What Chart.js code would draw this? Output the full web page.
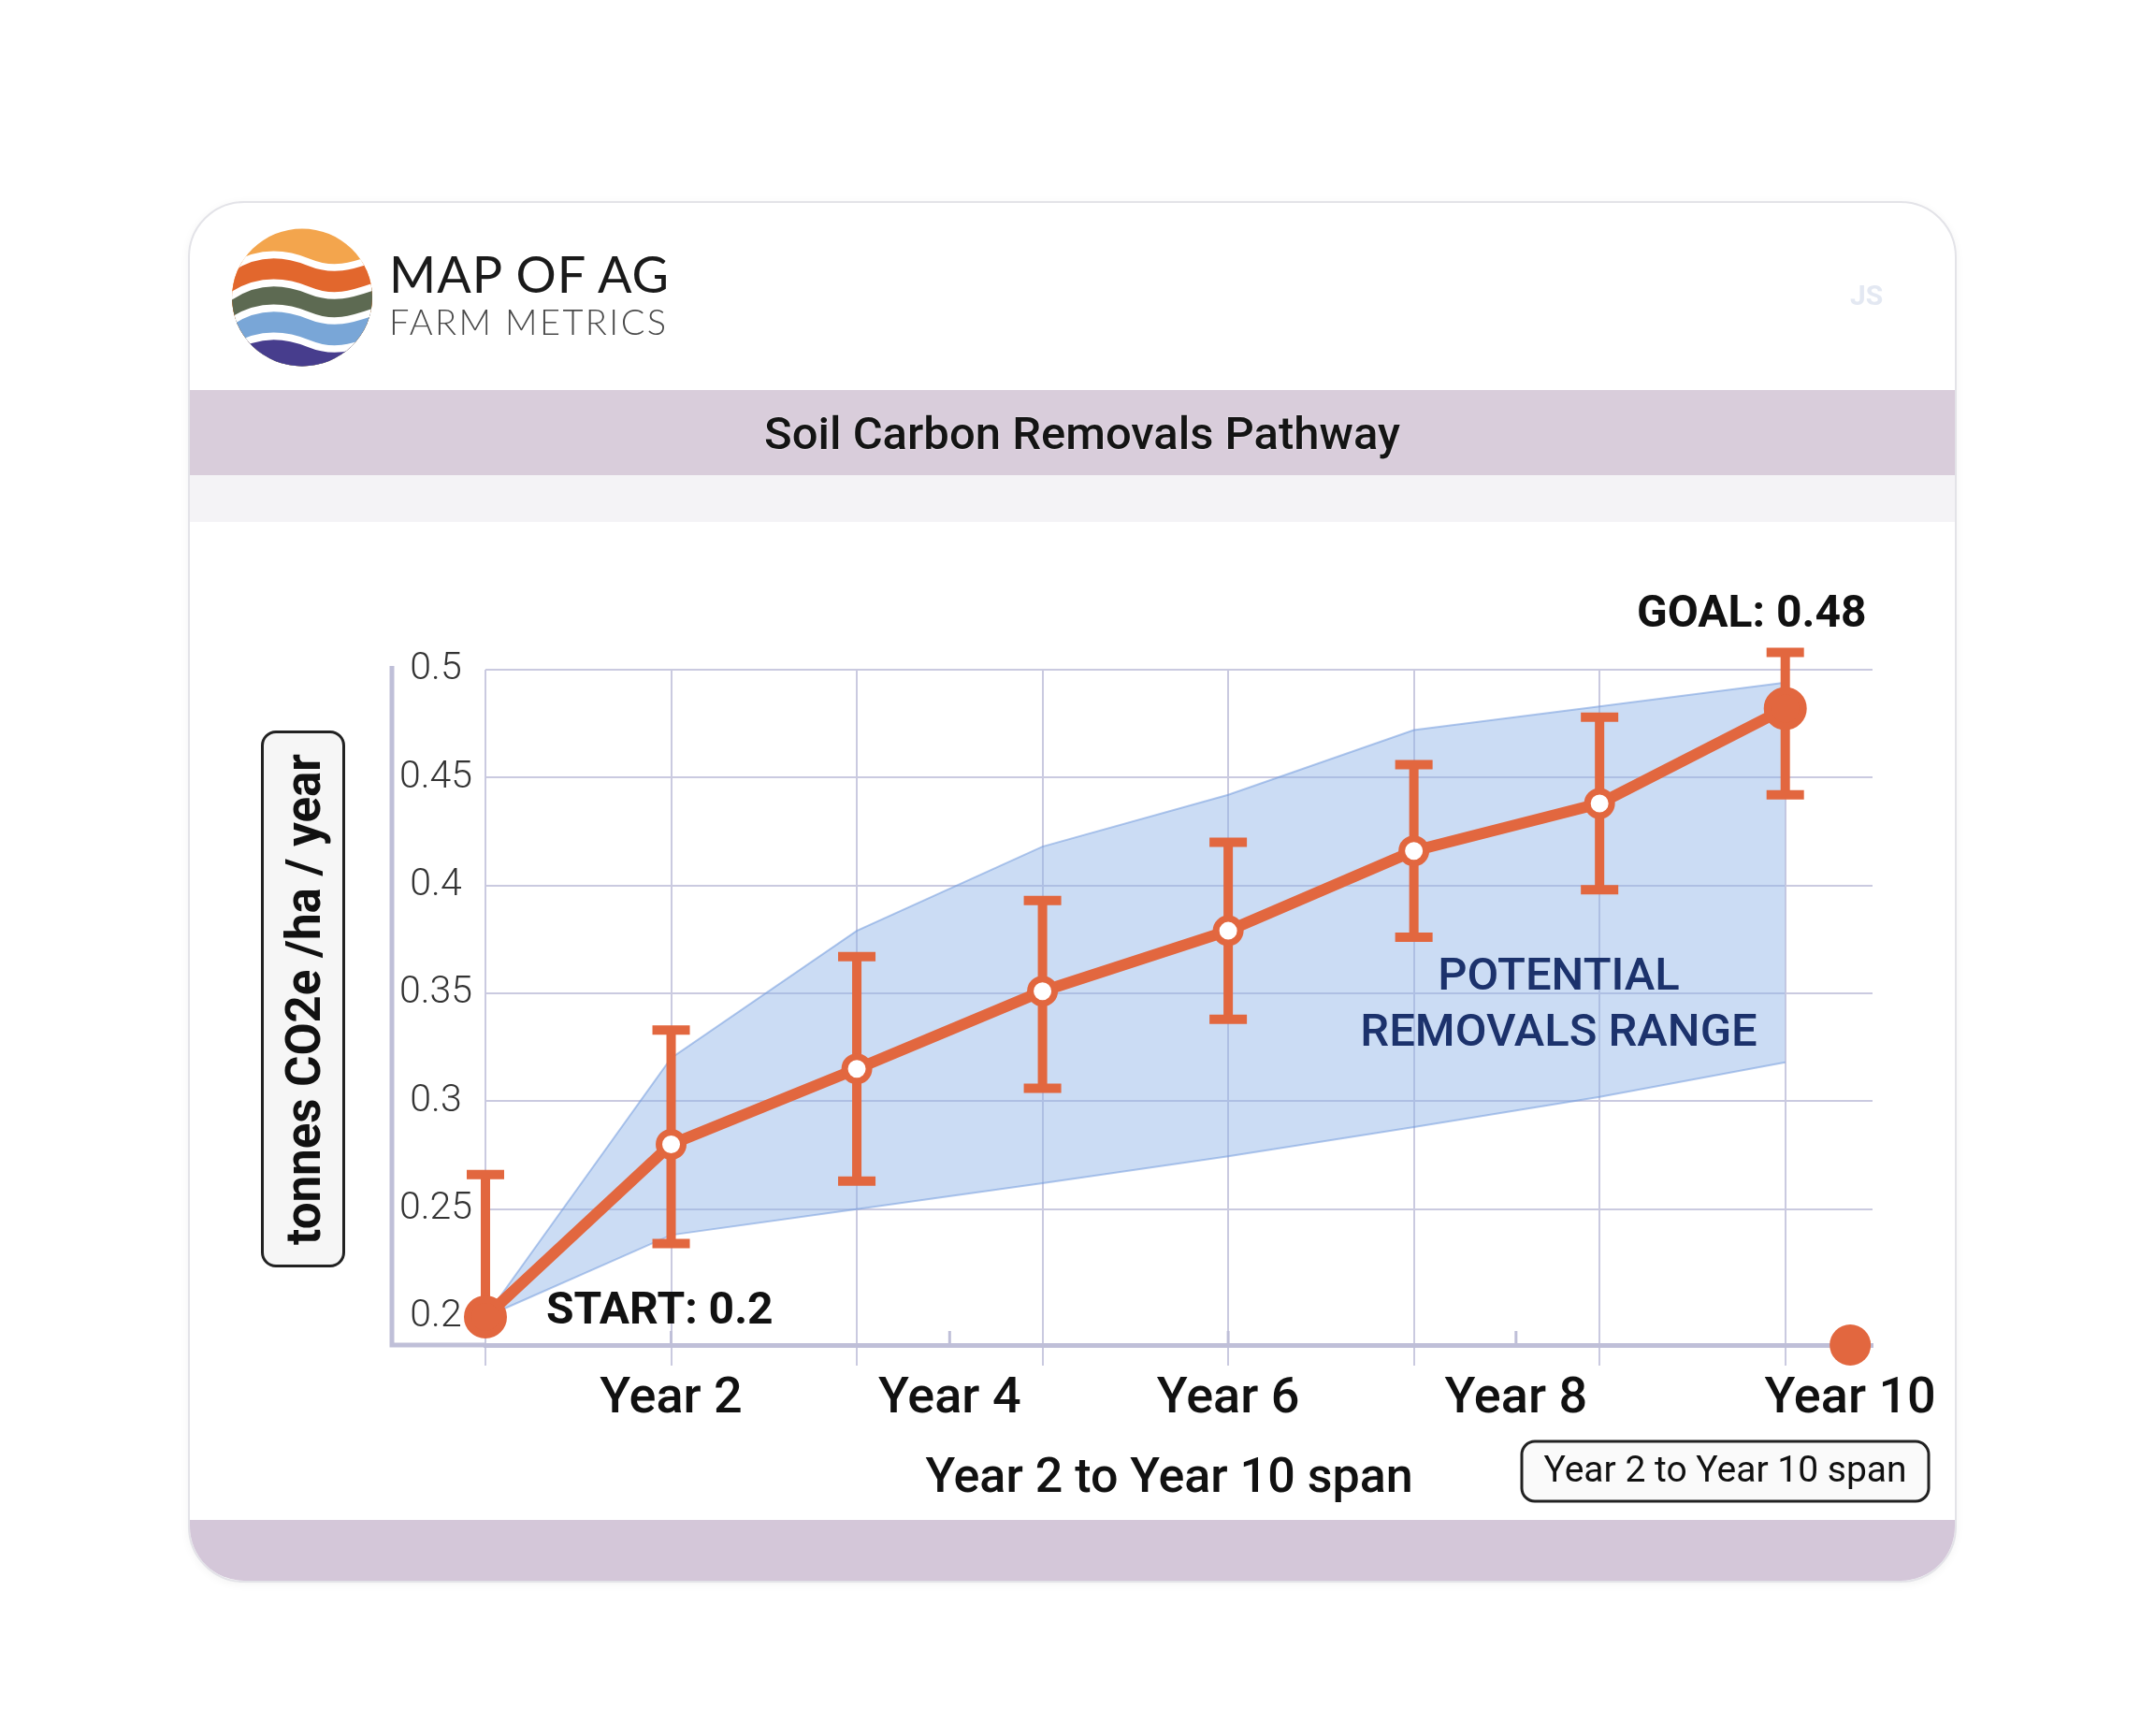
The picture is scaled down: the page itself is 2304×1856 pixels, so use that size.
<!DOCTYPE html>
<html>
<head>
<meta charset="utf-8">
<title>Soil Carbon Removals Pathway</title>
<script src="https://cdn.jsdelivr.net/npm/chart.js@4.4.0/dist/chart.umd.min.js"></script>
<style>
  html, body { margin: 0; padding: 0; background: #fff; }
  body { width: 2304px; height: 1856px; position: relative; overflow: hidden; font-family: Roboto, sans-serif; }
  .card { position: absolute; left: 201px; top: 215px; width: 1887px; height: 1473px; border: 2px solid #e3e3e8;
          border-radius: 60px; overflow: hidden; background: #fff; box-shadow: 0 2px 10px rgba(0,0,0,0.05); z-index: 1; }
  .band { position: absolute; left: 0; width: 100%; background: #d9cddb; }
  .strip { position: absolute; left: 0; width: 100%; top: 291px; height: 50px; background: #f4f3f6; }
  .title { position: absolute; left: 0; width: 1908px; top: 218px; height: 91px; line-height: 91px; text-align: center;
           font: 500 49px Roboto, sans-serif; color: #141414; text-shadow: 0 0 2px rgba(255,255,255,0.8); }
  .brand1 { position: absolute; left: 416px; top: 266px; font: 400 54px Lato, sans-serif; line-height: 54px; color: #1a1a1a; letter-spacing: 1px; z-index: 3; }
  .brand2 { position: absolute; left: 416px; top: 324px; font: 300 38px Lato, sans-serif; line-height: 38px; color: #4a4a4a; letter-spacing: 2.4px; z-index: 3; }
  .faint { position: absolute; left: 1978px; top: 298px; font: 700 30px Roboto, sans-serif; color: #e3e8f2; z-index: 3; }
  .ytitle { position: absolute; left: 279px; top: 781px; width: 84px; height: 568px; border: 3px solid #222; border-radius: 16px;
            background: #f6f6f6; display: flex; align-items: center; justify-content: center; z-index: 3; }
  .ytitle span { writing-mode: vertical-rl; transform: rotate(180deg); font: 700 51px Roboto, sans-serif; color: #111; white-space: nowrap; }
  canvas { position: absolute; left: 0; top: 0; z-index: 2; }
</style>
</head>
<body>
<div class="card">
  <div class="band" style="top:200px;height:91px"></div>
  <div class="strip"></div>
  <div class="title">Soil Carbon Removals Pathway</div>
  <div class="band" style="top:1408px;height:67px;background:#d4c7d9"></div>
</div>

<svg width="150" height="150" viewBox="0 0 100 100" style="position:absolute;left:248px;top:243px;z-index:3">
  <defs>
    <clipPath id="lc"><ellipse cx="50" cy="50" rx="50" ry="49"/></clipPath>
  </defs>
  <g clip-path="url(#lc)">
    <rect x="0" y="0" width="100" height="100" fill="#f3a54d"/>
    <path d="M-2,30 C18,16 38,18 55,25 S85,28 102,22 L102,102 L-2,102 Z" fill="#e2672d"/>
    <path d="M-2,50 C18,36 38,38 55,45 S85,48 102,42 L102,102 L-2,102 Z" fill="#5d6a52"/>
    <path d="M-2,68 C18,54 38,56 55,63 S85,66 102,60 L102,102 L-2,102 Z" fill="#79a6d7"/>
    <path d="M-2,88 C18,74 38,76 55,83 S85,86 102,80 L102,102 L-2,102 Z" fill="#473d8d"/>
    <g fill="none" stroke="#fff" stroke-width="5">
      <path d="M-2,30 C18,16 38,18 55,25 S85,28 102,22"/>
      <path d="M-2,50 C18,36 38,38 55,45 S85,48 102,42"/>
      <path d="M-2,68 C18,54 38,56 55,63 S85,66 102,60"/>
      <path d="M-2,88 C18,74 38,76 55,83 S85,86 102,80"/>
    </g>
  </g>
</svg>
<div class="brand1">MAP OF AG</div>
<div class="brand2">FARM METRICS</div>
<div class="faint">JS</div>
<div class="ytitle"><span>tonnes CO2e /ha / year</span></div>

<canvas id="chart" width="2304" height="1856" style="width:2304px;height:1856px"></canvas>

<script>
// measurement positions along the x axis (one per plotted year step)
const points = [0, 1, 2, 3, 4, 5, 6, 7];
const removals = [0.2, 0.28, 0.315, 0.351, 0.379, 0.416, 0.438, 0.482];
const errHigh = [0.266, 0.333, 0.367, 0.393, 0.42, 0.456, 0.478, 0.508];
const errLow = [null, 0.234, 0.263, 0.306, 0.338, 0.376, 0.398, 0.442];
const rangeHigh = [0.2, 0.32, 0.379, 0.418, 0.442, 0.472, 0.483, 0.494];
const rangeLow = [0.2, 0.238, 0.25, 0.262, 0.2745, 0.288, 0.302, 0.318];

const yTicks = [0.2, 0.25, 0.3, 0.35, 0.4, 0.45, 0.5];
const xTickLabels = ['Year 2', 'Year 4', 'Year 6', 'Year 8', 'Year 10'];
const xTickPositions = [1, 2.5, 4, 5.55, 7.35];

const Y_MIN = 0.187, Y_MAX = 0.5, X_MAX = 7.47;
const ORANGE = '#e2673f';
const GRID = '#cacae0';
const AXIS = '#bfbfd8';

const xy = (arr) => arr.map((v, i) => ({ x: points[i], y: v }));
const isEnd = (c) => c.dataIndex === 0 || c.dataIndex === removals.length - 1;

const decor = {
  id: 'decor',
  beforeDatasetsDraw(chart) {
    const { ctx, chartArea, scales } = chart;
    const left = scales.y.left;
    ctx.save();
    ctx.strokeStyle = AXIS;
    ctx.lineWidth = 5;
    ctx.beginPath();
    ctx.moveTo(left, chartArea.top - 4);
    ctx.lineTo(left, chartArea.bottom);
    ctx.lineTo(chartArea.left, chartArea.bottom);
    ctx.stroke();
    // little upward ticks at the label positions
    ctx.lineWidth = 3;
    xTickPositions.forEach(v => {
      const px = scales.x2.getPixelForValue(v);
      ctx.beginPath();
      ctx.moveTo(px, chartArea.bottom);
      ctx.lineTo(px, chartArea.bottom - 15);
      ctx.stroke();
    });
    ctx.restore();
  },
  beforeDatasetDraw(chart, args) {
    if (args.index !== 0) return;
    const { ctx, scales } = chart;
    ctx.save();
    ctx.strokeStyle = ORANGE;
    ctx.lineWidth = 10;
    removals.forEach((v, i) => {
      const px = scales.x.getPixelForValue(points[i]);
      const top = scales.y.getPixelForValue(errHigh[i]);
      const bot = scales.y.getPixelForValue(errLow[i] == null ? v : errLow[i]);
      ctx.beginPath();
      ctx.moveTo(px, top);
      ctx.lineTo(px, bot);
      ctx.moveTo(px - 20, top);
      ctx.lineTo(px + 20, top);
      if (errLow[i] != null) {
        ctx.moveTo(px - 20, bot);
        ctx.lineTo(px + 20, bot);
      }
      ctx.stroke();
    });
    ctx.restore();
  },
  afterDatasetsDraw(chart) {
    const { ctx, chartArea, scales } = chart;
    const x = scales.x, y = scales.y;
    ctx.save();
    ctx.textBaseline = 'middle';
    ctx.fillStyle = '#111';

    ctx.font = '700 48px Roboto';
    ctx.textAlign = 'left';
    ctx.fillText('START: 0.2', x.getPixelForValue(points[0]) + 65, y.getPixelForValue(removals[0]) - 5);

    ctx.textAlign = 'center';
    ctx.fillText('GOAL: 0.48', x.getPixelForValue(points[7]) - 36, chartArea.top - 58);

    ctx.fillStyle = '#1c326c';
    ctx.font = '500 49px Roboto';
    const cx = x.getPixelForValue(5.78), cy = y.getPixelForValue(0.357);
    ctx.fillText('POTENTIAL', cx, cy);
    ctx.fillText('REMOVALS RANGE', cx, cy + 60);

    ctx.fillStyle = '#111';
    ctx.font = '500 52px Roboto';
    ctx.fillText('Year 2 to Year 10 span', chartArea.left + 731, chartArea.bottom + 144);

    // boxed caption
    const bx = chartArea.right - 375, by = chartArea.bottom + 103, bw = 435, bh = 64;
    ctx.beginPath();
    ctx.roundRect(bx, by, bw, bh, 14);
    ctx.fillStyle = '#fafafa';
    ctx.fill();
    ctx.lineWidth = 3;
    ctx.strokeStyle = '#222';
    ctx.stroke();
    ctx.fillStyle = '#111';
    ctx.font = '400 39px Roboto';
    ctx.fillText('Year 2 to Year 10 span', bx + bw / 2, by + bh / 2 + 1);
    ctx.restore();
  }
};

new Chart(document.getElementById('chart').getContext('2d'), {
  type: 'line',
  data: {
    datasets: [
      {
        label: 'Removals pathway',
        data: xy(removals),
        borderColor: ORANGE,
        borderWidth: 12,
        tension: 0,
        pointRadius: c => isEnd(c) ? 19 : 13,
        pointBorderWidth: c => isEnd(c) ? 8 : 7,
        pointBackgroundColor: c => isEnd(c) ? ORANGE : '#ffffff',
        pointBorderColor: ORANGE,
        clip: false
      },
      {
        label: 'Year 10 marker',
        data: [{ x: xTickPositions[4], y: Y_MIN }],
        showLine: false,
        pointRadius: 22,
        pointBorderWidth: 0,
        pointBackgroundColor: ORANGE,
        clip: false
      },
      {
        label: 'Range low',
        data: xy(rangeLow),
        borderColor: 'rgba(115,155,220,0.55)',
        borderWidth: 2,
        pointRadius: 0,
        fill: false,
        tension: 0,
        clip: false
      },
      {
        label: 'Potential removals range',
        data: xy(rangeHigh),
        borderColor: 'rgba(115,155,220,0.55)',
        borderWidth: 2,
        backgroundColor: 'rgba(140,178,230,0.45)',
        pointRadius: 0,
        fill: 2,
        tension: 0,
        clip: false
      }
    ]
  },
  options: {
    responsive: false,
    devicePixelRatio: 1,
    animation: false,
    events: [],
    layout: { padding: { top: 716, left: 419, right: 302, bottom: 316 } },
    plugins: { legend: { display: false }, tooltip: { enabled: false } },
    scales: {
      x: {
        type: 'linear',
        position: 'bottom',
        weight: 0,
        min: 0,
        max: X_MAX,
        afterBuildTicks: s => { s.ticks = points.map(v => ({ value: v })); },
        afterFit: s => { s.height = 22; },
        ticks: { display: false },
        grid: { color: GRID, lineWidth: 2, tickLength: 22 },
        border: { color: AXIS, width: 5 }
      },
      x2: {
        type: 'linear',
        position: 'bottom',
        weight: 1,
        min: 0,
        max: X_MAX,
        afterBuildTicks: s => { s.ticks = xTickPositions.map(v => ({ value: v })); },
        afterFit: s => { s.height = 80; },
        grid: { display: false, drawTicks: false },
        border: { display: false },
        ticks: {
          autoSkip: false,
          maxRotation: 0,
          padding: 4,
          color: '#111',
          font: { family: 'Roboto', size: 54, weight: '500' },
          callback: v => xTickLabels[xTickPositions.indexOf(v)]
        }
      },
      y: {
        min: Y_MIN,
        max: Y_MAX,
        afterBuildTicks: s => { s.ticks = yTicks.map(v => ({ value: v })); },
        afterFit: s => { s.width = 100; },
        grid: {
          color: c => (c.tick && c.tick.value === 0.2) ? 'rgba(0,0,0,0)' : GRID,
          lineWidth: 2,
          drawTicks: false
        },
        border: { display: false },
        ticks: {
          crossAlign: 'center',
          padding: 14,
          color: '#333',
          font: { family: 'Roboto', size: 41, weight: '300' },
          callback: v => String(v)
        }
      }
    }
  },
  plugins: [decor]
});
</script>
</body>
</html>
